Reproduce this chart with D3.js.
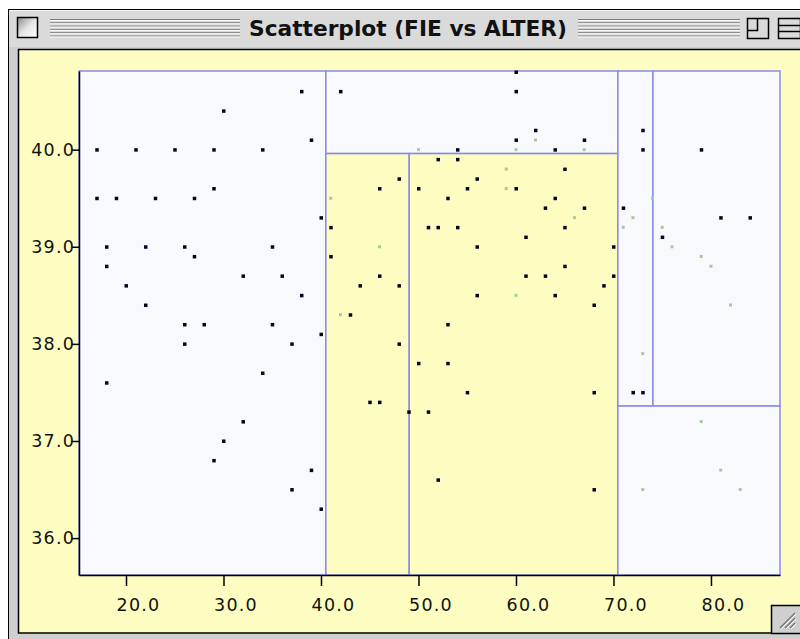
<!DOCTYPE html>
<html>
<head>
<meta charset="utf-8">
<script src="https://cdn.jsdelivr.net/npm/d3@7"></script>
<style>
  body { margin: 0; background: #fff; }
  svg { display: block; }
</style>
</head>
<body>
<svg width="800" height="639"></svg>
<script>
// --- data ---
const title = "Scatterplot (FIE vs ALTER)";

const darkX = [38, 30, 39, 17, 21, 25, 29, 34, 29, 17, 19, 23, 27, 40, 18, 22, 26, 35, 27, 18,
  20, 32, 36, 38, 22, 26, 28, 35, 40, 26, 37, 18, 34, 32, 30, 29, 39, 37, 40,
  60, 42, 60, 62, 60, 67, 54, 64, 52, 54, 65, 48, 56, 46, 50, 55, 60, 53, 64, 63,
  67, 71, 41, 51, 52, 54, 65, 56, 61, 70, 41, 46, 44, 48, 61, 63, 65, 70, 69, 56,
  64, 68, 43, 53, 48, 50, 53, 55, 68, 45, 46, 49, 51, 52, 68,
  73, 73, 79, 75, 81, 84, 72, 73];
const darkY = [40.6, 40.4, 40.1, 40.0, 40.0, 40.0, 40.0, 40.0, 39.6, 39.5, 39.5, 39.5, 39.5, 39.3, 39.0, 39.0, 39.0, 39.0, 38.9, 38.8,
  38.6, 38.7, 38.7, 38.5, 38.4, 38.2, 38.2, 38.2, 38.1, 38.0, 38.0, 37.6, 37.7, 37.2, 37.0, 36.8, 36.7, 36.5, 36.3,
  40.8, 40.6, 40.6, 40.2, 40.1, 40.1, 40.0, 40.0, 39.9, 39.9, 39.8, 39.7, 39.7, 39.6, 39.6, 39.6, 39.6, 39.5, 39.5, 39.4,
  39.4, 39.4, 39.2, 39.2, 39.2, 39.2, 39.2, 39.0, 39.1, 39.0, 38.9, 38.7, 38.6, 38.6, 38.7, 38.7, 38.8, 38.7, 38.6, 38.5,
  38.5, 38.4, 38.3, 38.2, 38.0, 37.8, 37.8, 37.5, 37.5, 37.4, 37.4, 37.3, 37.3, 36.6, 36.5,
  40.2, 40.0, 40.0, 39.1, 39.3, 39.3, 37.5, 37.5];

const paleX = [62, 50, 60, 67, 59, 59, 66, 72, 71, 41, 46, 60, 42, 74, 75, 76, 79, 80, 82, 73, 79, 81, 73, 83];
const paleY = [40.1, 40.0, 40.0, 40.0, 39.8, 39.6, 39.3, 39.3, 39.2, 39.5, 39.0, 38.5, 38.3, 39.5, 39.2, 39.0, 38.9, 38.8, 38.4, 37.9, 37.2, 36.7, 36.5, 36.5];

const xTicks = [20, 30, 40, 50, 60, 70, 80];
const yTicks = [36, 37, 38, 39, 40];

// split values of the partition (FIE on x, ALTER on y)
const splitsX = [40.5, 49.05, 70.45, 74.05];
const splitsY = [39.96, 37.36];

const xDomain = [15.18, 87.08];
const yDomain = [35.62, 40.81];

// --- layout ---
const svg = d3.select("svg");
const yellow = "#fdfdc2";
const light = "#f8f9fd";
const cutColor = "#8a8ae4";
const plot = { left: 79, right: 780, top: 71, bottom: 575 };

const x = d3.scaleLinear().domain(xDomain).range([plot.left, plot.right]);
const y = d3.scaleLinear().domain(yDomain).range([plot.bottom, plot.top]);

// window chrome
svg.append("rect").attr("x", 8.5).attr("y", 9.5).attr("width", 800).attr("height", 640)
  .attr("fill", "#cfcfcf").attr("stroke", "#000");
svg.append("rect").attr("x", 9).attr("y", 10).attr("width", 800).attr("height", 37).attr("fill", "#dadada");
svg.append("line").attr("x1", 9).attr("x2", 800).attr("y1", 10.5).attr("y2", 10.5).attr("stroke", "#f4f4f4");

const stripes = svg.append("g");
[[50, 240], [578, 740]].forEach(([a, b]) => {
  d3.range(6).forEach((i) => {
    stripes.append("line").attr("x1", a).attr("x2", b)
      .attr("y1", 19.5 + i * 3.3).attr("y2", 19.5 + i * 3.3).attr("stroke", "#7a7a7a");
    stripes.append("line").attr("x1", a).attr("x2", b)
      .attr("y1", 20.5 + i * 3.3).attr("y2", 20.5 + i * 3.3).attr("stroke", "#fafafa");
  });
});

const boxGrad = svg.append("defs").append("linearGradient").attr("id", "box")
  .attr("x1", 0).attr("y1", 0).attr("x2", 1).attr("y2", 1);
boxGrad.append("stop").attr("offset", 0).attr("stop-color", "#8a8a8a");
boxGrad.append("stop").attr("offset", 0.5).attr("stop-color", "#e6e6e6");
boxGrad.append("stop").attr("offset", 1).attr("stop-color", "#ffffff");

svg.append("rect").attr("x", 17.5).attr("y", 17.5).attr("width", 20).attr("height", 20)
  .attr("fill", "url(#box)").attr("stroke", "#000").attr("stroke-width", 1.5);

// zoom box
svg.append("rect").attr("x", 747.5).attr("y", 18.5).attr("width", 21).attr("height", 20)
  .attr("fill", "#dadada").attr("stroke", "#000").attr("stroke-width", 1.5);
svg.append("path").attr("d", "M748,30.5 H757.5 V19").attr("fill", "none").attr("stroke", "#000").attr("stroke-width", 1.5);
// collapse box
svg.append("rect").attr("x", 778.5).attr("y", 18.5).attr("width", 22).attr("height", 20)
  .attr("fill", "#dadada").attr("stroke", "#000").attr("stroke-width", 1.5);
[25.5, 31.5].forEach((yy) => svg.append("line").attr("x1", 779).attr("x2", 800)
  .attr("y1", yy).attr("y2", yy).attr("stroke", "#000").attr("stroke-width", 1.5));

svg.append("rect").attr("x", 245).attr("y", 16).attr("width", 328).attr("height", 24).attr("fill", "#dadada");
svg.append("text").attr("x", 408).attr("y", 36)
  .attr("text-anchor", "middle")
  .attr("font-family", "'DejaVu Sans Condensed', 'DejaVu Sans', sans-serif")
  .attr("font-stretch", "condensed")
  .attr("font-weight", "bold").attr("font-size", 22)
  .attr("textLength", 318).attr("lengthAdjust", "spacingAndGlyphs")
  .attr("fill", "#111").text(title);

// content pane
svg.append("rect").attr("x", 18.5).attr("y", 49.5).attr("width", 800).attr("height", 583.5)
  .attr("fill", yellow).attr("stroke", "#000").attr("stroke-width", 1.5);

// partition regions
const [x0, x1] = xDomain, [y0, y1] = yDomain;
const regions = [
  [x0, splitsX[0], y0, y1, light],
  [splitsX[0], splitsX[2], splitsY[0], y1, light],
  [splitsX[0], splitsX[1], y0, splitsY[0], yellow],
  [splitsX[1], splitsX[2], y0, splitsY[0], yellow],
  [splitsX[2], splitsX[3], splitsY[1], y1, light],
  [splitsX[3], x1, splitsY[1], y1, light],
  [splitsX[2], x1, y0, splitsY[1], light]
];

svg.append("g").selectAll("rect").data(regions).join("rect")
  .attr("x", (d) => x(d[0]))
  .attr("y", (d) => y(d[3]))
  .attr("width", (d) => x(d[1]) - x(d[0]))
  .attr("height", (d) => y(d[2]) - y(d[3]))
  .attr("fill", (d) => d[4])
  .attr("stroke", cutColor)
  .attr("stroke-width", 1.5);

// points
const pale = paleX.map((v, i) => [v, paleY[i]]);
const dark = darkX.map((v, i) => [v, darkY[i]]);

svg.append("g").selectAll("rect").data(pale).join("rect")
  .attr("x", (d) => x(d[0]) - 1.5).attr("y", (d) => y(d[1]) - 1.5)
  .attr("width", 3).attr("height", 3).attr("fill", "#a9c9a0");

svg.append("g").selectAll("rect").data(dark).join("rect")
  .attr("x", (d) => x(d[0]) - 1.5).attr("y", (d) => y(d[1]) - 1.5)
  .attr("width", 3.5).attr("height", 3.5).attr("fill", "#05051e");

// axes
const font = "'DejaVu Sans', sans-serif";

const yAxis = svg.append("g")
  .attr("transform", `translate(${plot.left},0)`)
  .call(d3.axisLeft(y).tickValues(yTicks).tickFormat(d3.format(".1f"))
    .tickSize(7).tickSizeOuter(0).tickPadding(-3));
yAxis.select(".domain").attr("stroke", "#000").attr("stroke-width", 1.5);
yAxis.selectAll(".tick line").attr("stroke", "#000").attr("stroke-width", 1.5);
yAxis.selectAll(".tick text").attr("font-family", font).attr("font-size", 17.5)
  .attr("letter-spacing", 1.2).attr("fill", "#111");

const xAxis = svg.append("g")
  .attr("transform", `translate(0,${plot.bottom})`)
  .call(d3.axisBottom(x).tickValues(xTicks).tickFormat(d3.format(".1f"))
    .tickSize(11).tickSizeOuter(0));
xAxis.select(".domain").attr("stroke", "#000").attr("stroke-width", 1.5);
xAxis.selectAll(".tick line").attr("stroke", "#000").attr("stroke-width", 1.5);
xAxis.selectAll(".tick text").attr("font-family", font).attr("font-size", 17.5)
  .attr("letter-spacing", 1.2).attr("fill", "#111")
  .attr("x", 12).attr("y", 24);

// resize grip
svg.append("rect").attr("x", 771.5).attr("y", 605.5).attr("width", 30).attr("height", 28)
  .attr("fill", "#cfcfcf").attr("stroke", "#000").attr("stroke-width", 1.5);
[0, 5, 10].forEach((o) => {
  svg.append("line").attr("x1", 780 + o).attr("y1", 628).attr("x2", 795).attr("y2", 613 + o)
    .attr("stroke", "#777").attr("stroke-width", 1.5);
  svg.append("line").attr("x1", 781 + o).attr("y1", 629).attr("x2", 796).attr("y2", 614 + o)
    .attr("stroke", "#fff").attr("stroke-width", 1);
});
</script>
</body>
</html>
